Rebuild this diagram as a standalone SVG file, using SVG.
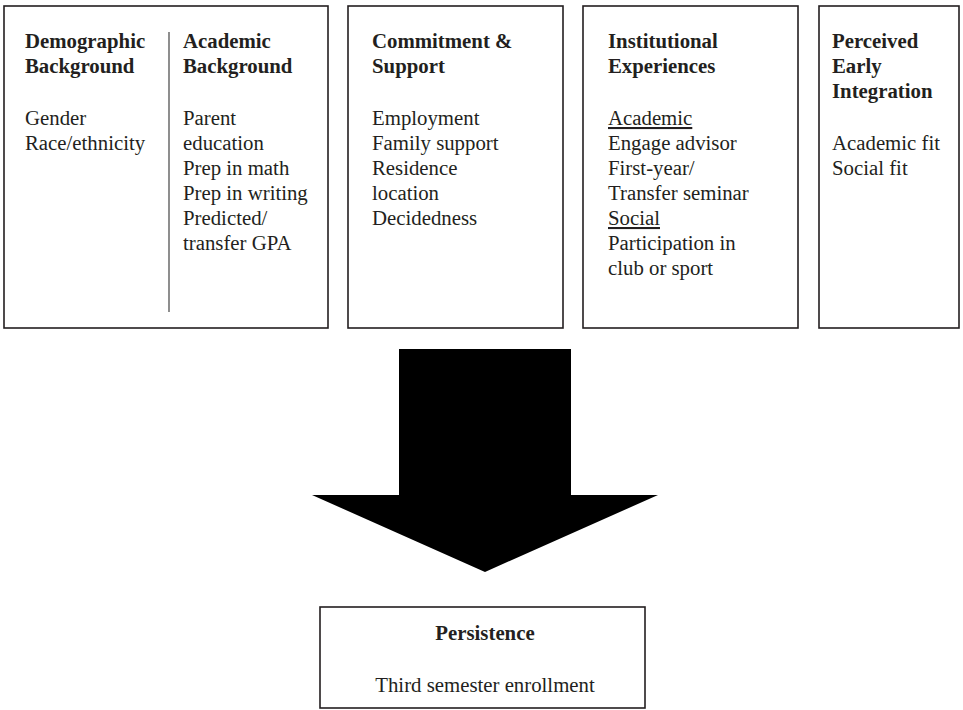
<svg xmlns="http://www.w3.org/2000/svg" width="963" height="710" viewBox="0 0 963 710">
  <style>
    .box { fill: #fff; stroke: #231f20; stroke-width: 1.6; }
    text { font-family: "Liberation Serif", "Times New Roman", serif; font-size: 20.8px; fill: #231f20; }
    .h { font-weight: bold; }
    .u { text-decoration: underline; }
    .mid { text-anchor: middle; }
  </style>
  <rect width="963" height="710" fill="#fff"/>

  <g id="background">
    <rect class="box" x="4" y="6" width="324" height="322"/>
    <line x1="169" y1="32" x2="169" y2="312" stroke="#444" stroke-width="1.2"/>
    <text class="h" x="25" y="48">Demographic</text>
    <text class="h" x="25" y="73">Background</text>
    <text x="25" y="125">Gender</text>
    <text x="25" y="150">Race/ethnicity</text>
    <text class="h" x="183" y="48">Academic</text>
    <text class="h" x="183" y="73">Background</text>
    <text x="183" y="125">Parent</text>
    <text x="183" y="150">education</text>
    <text x="183" y="175">Prep in math</text>
    <text x="183" y="200">Prep in writing</text>
    <text x="183" y="225">Predicted/</text>
    <text x="183" y="250">transfer GPA</text>
  </g>

  <g id="commitment">
    <rect class="box" x="348" y="6" width="215" height="322"/>
    <text class="h" x="372" y="48">Commitment &amp;</text>
    <text class="h" x="372" y="73">Support</text>
    <text x="372" y="125">Employment</text>
    <text x="372" y="150">Family support</text>
    <text x="372" y="175">Residence</text>
    <text x="372" y="200">location</text>
    <text x="372" y="225">Decidedness</text>
  </g>

  <g id="institutional">
    <rect class="box" x="583" y="6" width="215" height="322"/>
    <text class="h" x="608" y="48">Institutional</text>
    <text class="h" x="608" y="73">Experiences</text>
    <text class="u" x="608" y="125">Academic</text>
    <text x="608" y="150">Engage advisor</text>
    <text x="608" y="175">First-year/</text>
    <text x="608" y="200">Transfer seminar</text>
    <text class="u" x="608" y="225">Social</text>
    <text x="608" y="250">Participation in</text>
    <text x="608" y="275">club or sport</text>
  </g>

  <g id="integration">
    <rect class="box" x="819" y="6" width="140" height="322"/>
    <text class="h" x="832" y="48">Perceived</text>
    <text class="h" x="832" y="73">Early</text>
    <text class="h" x="832" y="98">Integration</text>
    <text x="832" y="150">Academic fit</text>
    <text x="832" y="175">Social fit</text>
  </g>

  <g id="connectors">
    <polygon points="399,349 571,349 571,495 658,495 485,572 312,495 399,495" fill="#000"/>
  </g>

  <g id="persistence">
    <rect class="box" x="320" y="607" width="325" height="101"/>
    <text class="h mid" x="485" y="640">Persistence</text>
    <text class="mid" x="485" y="692">Third semester enrollment</text>
  </g>
</svg>
